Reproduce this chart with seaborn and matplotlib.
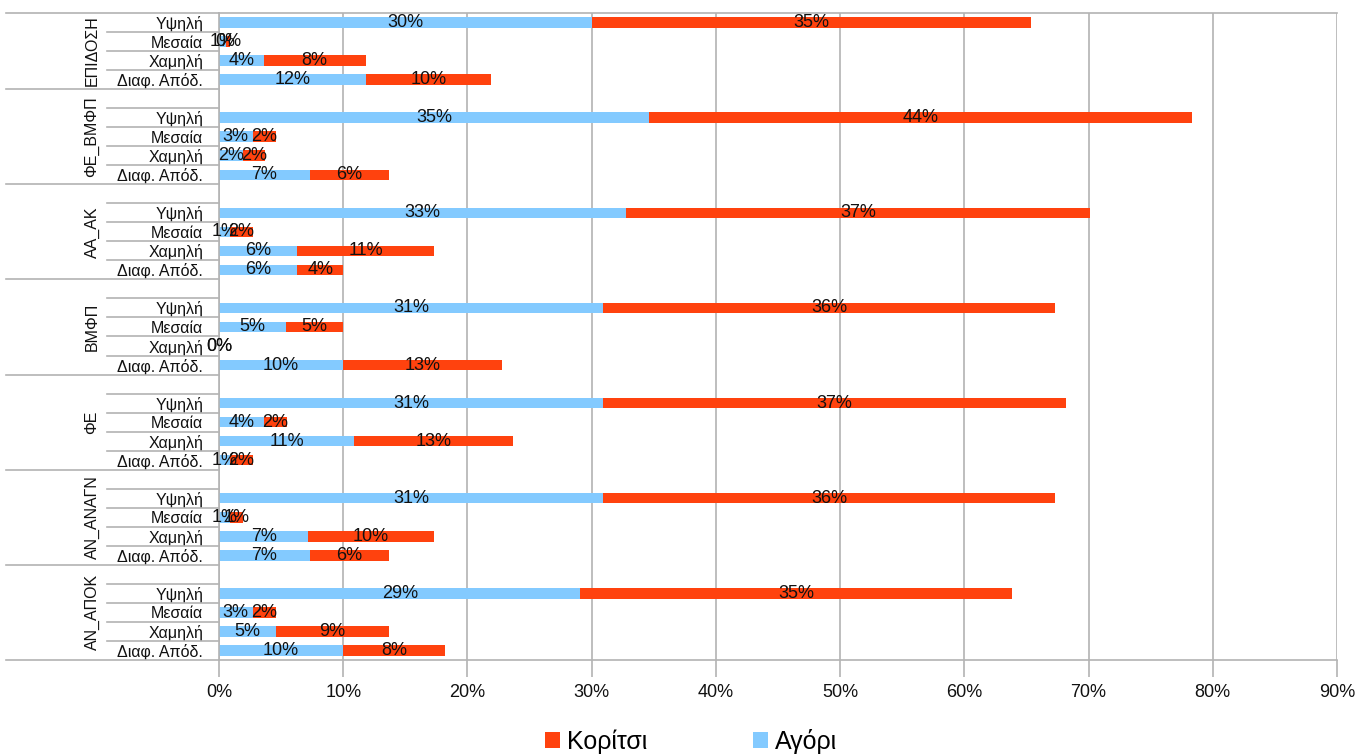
import matplotlib
matplotlib.use("Agg")
import matplotlib.pyplot as plt
from matplotlib.patches import Patch
from matplotlib.lines import Line2D
import seaborn as sns
import pandas as pd

# Indicator groups (top to bottom) and performance levels within each group
groups = ["ΕΠΙΔΟΣΗ", "ΦΕ_ΒΜΦΠ", "ΑΑ_ΑΚ", "ΒΜΦΠ", "ΦΕ", "ΑΝ_ΑΝΑΓΝ", "ΑΝ_ΑΠΟΚ"]
levels = ["Υψηλή", "Μεσαία", "Χαμηλή", "Διαφ. Απόδ."]

# Percentages per group, in the order of `levels`
boys = [
    [30.0, 0.6, 3.6, 11.8],
    [34.6, 2.7, 1.9, 7.3],
    [32.8, 0.9, 6.3, 6.3],
    [30.9, 5.4, 0.0, 10.0],
    [30.9, 3.6, 10.9, 0.9],
    [30.9, 0.9, 7.2, 7.3],
    [29.1, 2.7, 4.6, 10.0],
]
girls = [
    [35.4, 0.3, 8.2, 10.1],
    [43.7, 1.9, 1.8, 6.4],
    [37.3, 1.8, 11.0, 3.7],
    [36.4, 4.6, 0.0, 12.8],
    [37.3, 1.9, 12.8, 1.8],
    [36.4, 1.0, 10.1, 6.4],
    [34.7, 1.9, 9.1, 8.2],
]
x_ticks = [0, 10, 20, 30, 40, 50, 60, 70, 80, 90]

series_names = ["Κορίτσι", "Αγόρι"]
c_girls = "#ff420e"
c_boys = "#83caff"
grid_c = "#b3b3b3"
text_c = "#111111"
font = "Liberation Sans"

# Row slots: every group after the first starts with an empty slot
rows = []
slot = 0
group_spans = []
for gi, g in enumerate(groups):
    start = slot
    if gi > 0:
        slot += 1
    for li, lv in enumerate(levels):
        rows.append(dict(group=g, level=lv, pos=slot,
                         boys=boys[gi][li], girls=girls[gi][li],
                         total=boys[gi][li] + girls[gi][li]))
        slot += 1
    group_spans.append((g, start, slot))
n_slots = slot
df = pd.DataFrame(rows)

plt.rcParams["font.family"] = [font, "DejaVu Sans"]
fig = plt.figure(figsize=(13.72, 7.55), dpi=100)
ax = fig.add_axes([219 / 1372, 1 - 660 / 755, 1118 / 1372, 647 / 755])

sns.barplot(data=df, x="total", y="pos", orient="h", native_scale=True,
            color=c_girls, saturation=1, width=0.55, errorbar=None, ax=ax)
sns.barplot(data=df, x="boys", y="pos", orient="h", native_scale=True,
            color=c_boys, saturation=1, width=0.55, errorbar=None, ax=ax)
for p in ax.patches:
    p.set_edgecolor("none")

ax.set_xlim(0, 90)
ax.set_ylim(n_slots - 0.5, -0.5)
ax.set_xlabel("")
ax.set_ylabel("")

# Value labels centred in each segment
for _, r in df.iterrows():
    ax.text(r.boys / 2, r.pos, f"{r.boys:.0f}%", ha="center", va="center",
            fontsize=13, color=text_c, zorder=5)
    ax.text(r.boys + r.girls / 2, r.pos, f"{r.girls:.0f}%", ha="center",
            va="center", fontsize=13, color=text_c, zorder=5)

# X axis: gridlines with outward ticks
ax.set_xticks(x_ticks)
ax.set_xticklabels([f"{t}%" for t in x_ticks], fontsize=13, color=text_c)
ax.tick_params(axis="x", length=12, width=1.2, color=grid_c, pad=5)
ax.grid(axis="x", color=grid_c, linewidth=1.2, zorder=0)
ax.set_axisbelow(True)

# Y axis: level names
ax.set_yticks(df["pos"].tolist())
ax.set_yticklabels(df["level"].tolist(), fontsize=11.5, color=text_c)
ax.tick_params(axis="y", length=0, pad=11.5)

for side in ["top", "bottom", "left"]:
    ax.spines[side].set_color(grid_c)
    ax.spines[side].set_linewidth(1.2)
ax.spines["right"].set_visible(False)

# Category frame on the left: group separators and level separators
x_group = (6 - 219) / 1118
x_level = (107 - 219) / 1118
tr = ax.get_yaxis_transform()
for g, start, end in group_spans:
    y_top = start - 0.5
    ax.add_line(Line2D([x_group, 0], [y_top, y_top], transform=tr,
                       color=grid_c, lw=1.2, clip_on=False))
    for k in range(start, end - 1):
        ax.add_line(Line2D([x_level, 0], [k + 0.5, k + 0.5], transform=tr,
                           color=grid_c, lw=1.2, clip_on=False))
    ax.text((92 - 219) / 1118, (start - 0.5 + end - 0.5) / 2, g,
            transform=tr, rotation=90, ha="center", va="center",
            fontsize=11.5, color=text_c)
ax.add_line(Line2D([x_group, 0], [n_slots - 0.5, n_slots - 0.5], transform=tr,
                   color=grid_c, lw=1.2, clip_on=False))

# Legend below the plot
handles = [Patch(facecolor=c_girls, edgecolor="none"),
           Patch(facecolor=c_boys, edgecolor="none")]
fig.legend(handles, series_names, loc="center", ncol=2,
           bbox_to_anchor=(691 / 1372, 1 - 741 / 755), frameon=False,
           fontsize=18, handlelength=0.6, handleheight=0.6,
           handletextpad=0.28, columnspacing=4.2, borderpad=0)

fig.savefig("out.png", dpi=100)
